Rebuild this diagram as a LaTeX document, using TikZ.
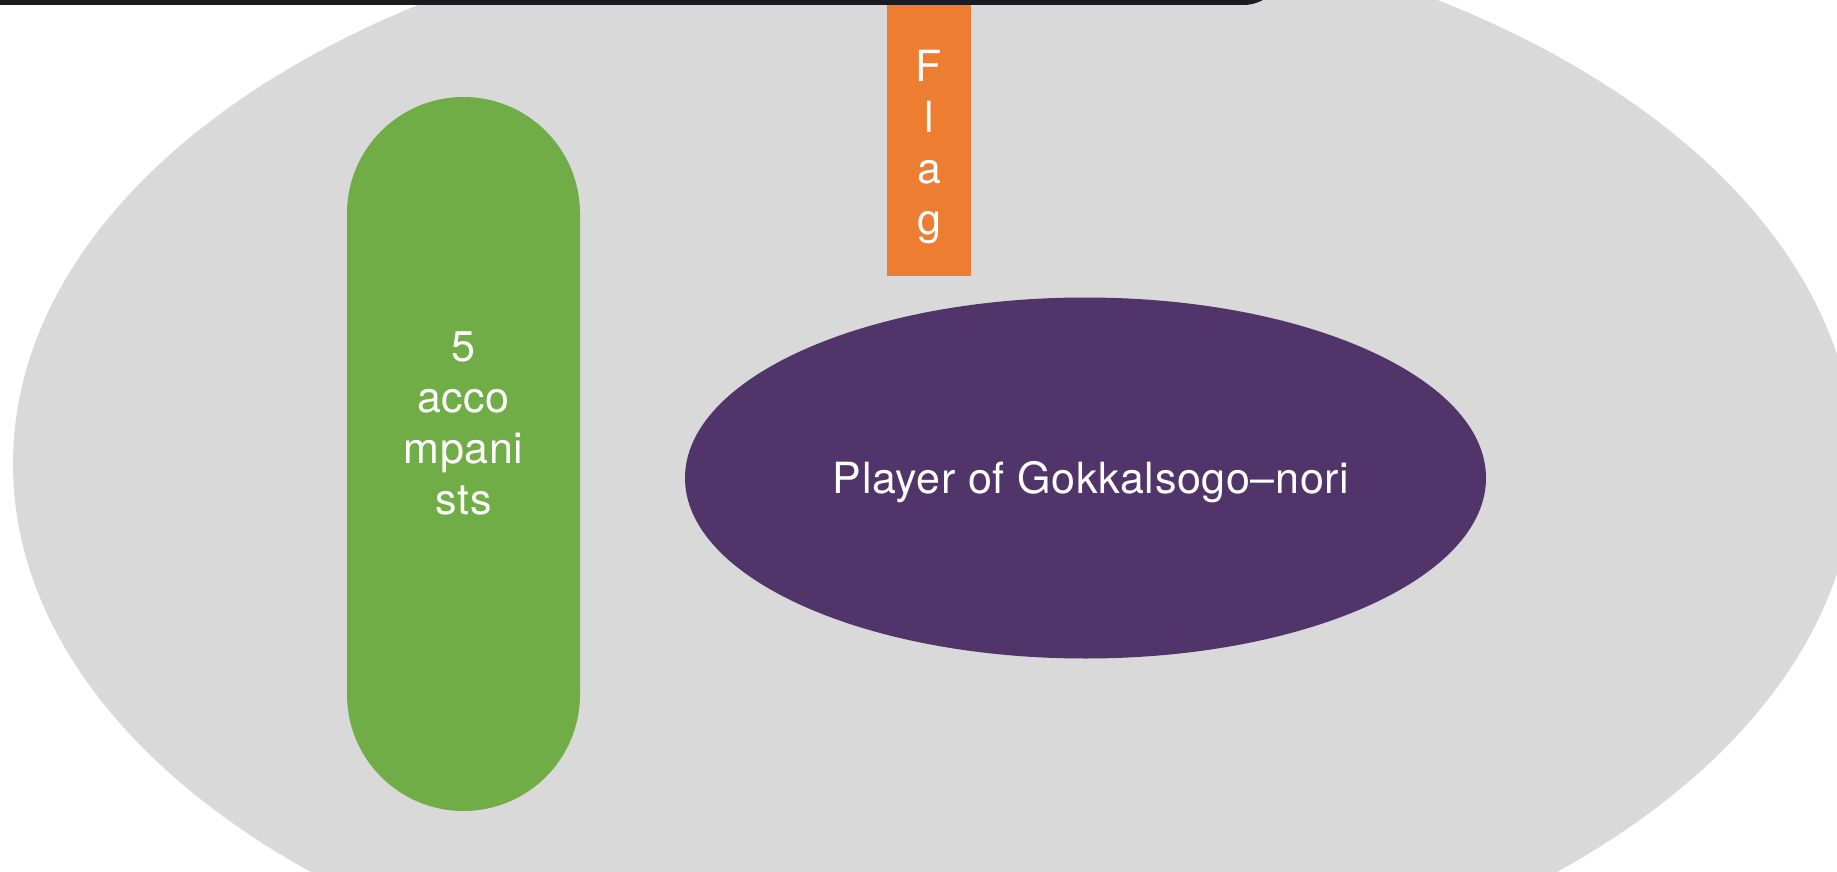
\documentclass[tikz,border=0pt]{standalone}
\usepackage{fontspec}
\setmainfont{TeX Gyre Heros}[LetterSpace=1.5]
\usetikzlibrary{shapes.geometric}
\definecolor{greyback}{HTML}{D9D9D9}
\definecolor{barblack}{HTML}{1A1B20}
\definecolor{flagorange}{HTML}{ED7D31}
\definecolor{accgreen}{HTML}{70AD47}
\definecolor{playerpurple}{HTML}{50346A}
\begin{document}
\begin{tikzpicture}[x=1pt,y=-1pt,
  every node/.style={inner sep=0pt, outer sep=0pt},
  txt/.style={text=white, font=\fontsize{43}{51}\selectfont, align=center},
  shapebox/.style={draw=none}]
\useasboundingbox (0,0) rectangle (1837,872);
\clip (0,0) rectangle (1837,872);
% stage
\node[ellipse, shapebox, fill=greyback, minimum width=1842, minimum height=1108] (stage) at (934,464) {};
% top bar
\fill[barblack, rounded corners=42] (-60,-80) rectangle (1285,5);
% flag
\node[rectangle, shapebox, fill=flagorange, minimum width=84, minimum height=271] (flag) at (929,140.5) {};
\node[txt] (flagtext) at (929,147) {F\\l\\a\\g};
% accompanists
\node[rectangle, shapebox, fill=accgreen, minimum width=233, minimum height=714, rounded corners=116.5] (acc) at (463.5,454) {};
\node[txt] (acctext) at (463.5,423) {5\\acco\\mpani\\sts};
% player
\node[ellipse, shapebox, fill=playerpurple, minimum width=801, minimum height=361] (player) at (1085.5,478) {};
\node[txt, anchor=base] (playertext) at (1091,493) {Player of Gokkalsogo–nori};
\end{tikzpicture}
\end{document}
